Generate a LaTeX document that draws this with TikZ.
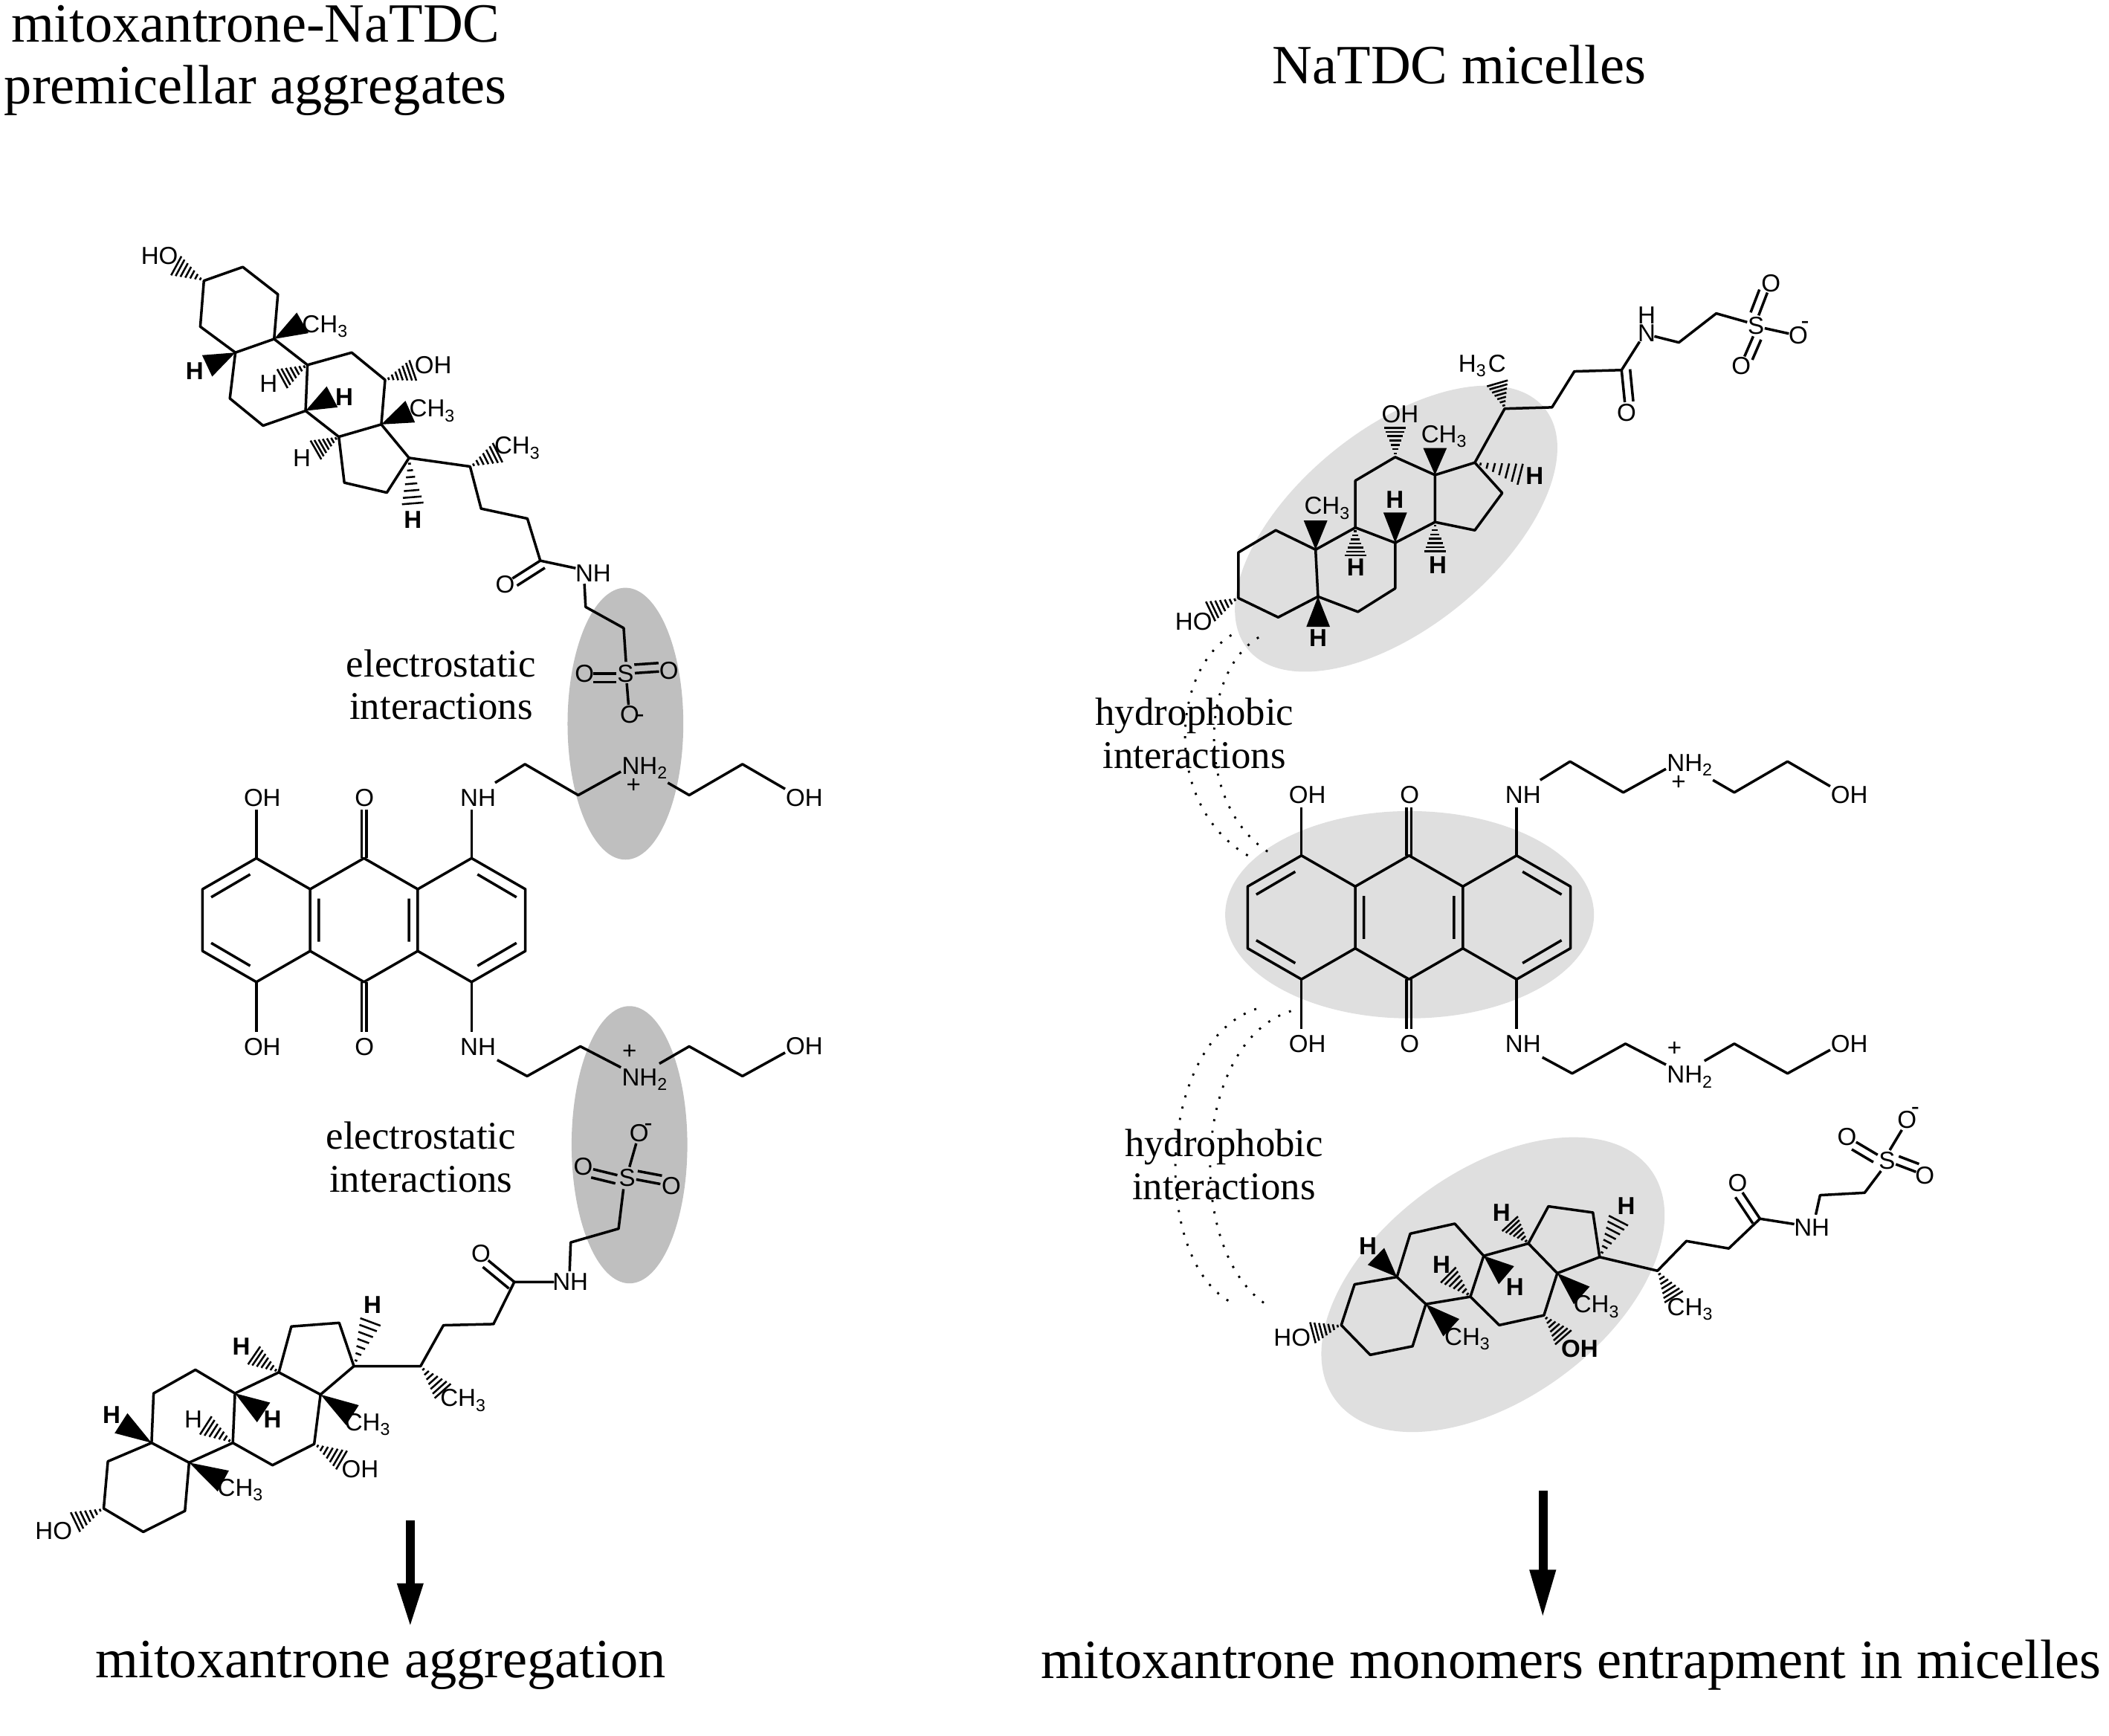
\documentclass[tikz,border=0pt]{standalone}
\usepackage{fontspec}
\setmainfont{Liberation Serif}
\setsansfont{Liberation Sans}
\usetikzlibrary{calc}
\newcommand\labf{\fontsize{5.2}{5.2}\selectfont\sffamily}
\newcommand\hsh[2]{\foreach \t in {0.12,0.26,0.40,0.54,0.68,0.82,0.95}{\pgfmathsetlengthmacro\hw{\t*2.4pt}\draw[line width=0.4pt] ($(#1)!\t!(#2)!\hw!90:(#2)$) -- ($(#1)!\t!(#2)!\hw!-90:(#2)$);}}
\newcommand\wdg[2]{\fill ($(#2)!2.5pt!90:(#1)$) -- (#1) -- ($(#2)!2.5pt!-90:(#1)$) -- cycle;}
\newcommand\dbl[2]{\draw (#1)--(#2); \draw ($(#1)!1.8pt!90:(#2)$)--($(#2)!1.8pt!-90:(#1)$);}
\newcommand\MitoxDraw{%
 \draw (190.6,638)--(230.6,661)--(230.6,707)--(190.6,730)--(150.6,707)--(150.6,661)--cycle;
 \draw (230.6,661)--(270.6,638)--(310.6,661)--(310.6,707)--(270.6,730)--(230.6,707);
 \draw (310.6,661)--(350.6,638)--(390.6,661)--(390.6,707)--(350.6,730)--(310.6,707);
 \draw (157,667)--(186,650) (157,701)--(186,718) (237,668)--(237,700) (304,668)--(304,700)
       (355,650)--(384,667) (355,718)--(384,701);
 \draw (190.6,638)--(190.6,602) (190.6,730)--(190.6,767);
 \draw (268.8,638)--(268.8,602) (272.4,638)--(272.4,602) (268.8,730)--(268.8,767) (272.4,730)--(272.4,767);
 \draw (350.6,638)--(350.6,602) (350.6,730)--(350.6,767);
 \node[lab] at (195,593) {OH}; \node[lab] at (271,593) {O}; \node[lab] at (355.4,593) {NH};
 \node[lab] at (195,778) {OH}; \node[lab] at (271,778) {O}; \node[lab] at (355.4,778) {NH};
 \draw (368.1,581.9)--(390.3,568.1)--(429.9,591.1)--(461.6,573.6);
 \draw (496.5,581.9)--(512.4,591.1)--(552,568.1)--(583.7,586.5);
 \node[lab] at (480,570.9) {NH\textsubscript{2}}; \node[lab] at (471,584) {+};
 \node[lab] at (598,593) {OH};
 \draw (369.7,788)--(391.9,800)--(431.5,777.9)--(461.6,793.5);
 \draw (490.2,790.7)--(512.4,777.9)--(552,800)--(583.7,782.5);
 \node[lab] at (480,802.7) {NH\textsubscript{2}}; \node[lab] at (468,782) {+};
 \node[lab] at (598,777.9) {OH};
}
\begin{document}
\begin{tikzpicture}[x=0.01cm,y=-0.01cm,line width=0.55pt,line join=round,
  lab/.style={font=\labf,inner sep=0pt},
  blab/.style={font=\labf\bfseries,inner sep=0pt},
  big/.style={font=\fontsize{11.7}{13.1}\selectfont,align=center,inner sep=0pt},
  mid/.style={font=\fontsize{8.3}{9.1}\selectfont,align=center,inner sep=0pt},
  dots/.style={dotted,line width=0.45pt}]
\useasboundingbox (0,0) rectangle (1568,1290);
% ellipses
\fill[gray!50] (465,538) ellipse[x radius=0.43cm,y radius=1.01cm];
\fill[gray!50] (468,851) ellipse[x radius=0.43cm,y radius=1.03cm];
\fill[gray!25] (1038,393) ellipse[x radius=1.42cm,y radius=0.74cm,rotate=39];
\fill[gray!25] (1048,680) ellipse[x radius=1.37cm,y radius=0.77cm];
\fill[gray!25] (1110,955) ellipse[x radius=1.45cm,y radius=0.85cm,rotate=36];
% titles
\node[big] (t1) at (190,45) {mitoxantrone-NaTDC\\premicellar aggregates};
\node[big] (t2) at (1085,48) {NaTDC micelles};
\node[big] (b1) at (283,1238) {mitoxantrone aggregation};
\node[big] (b2) at (1168,1238) {mitoxantrone monomers entrapment in micelles};
\node[mid] (e1) at (328,509) {electrostatic\\interactions};
\node[mid] (e2) at (313,860) {electrostatic\\interactions};
% dotted arcs
\draw[dots] (915.5,472.1) .. controls (870,500) and (865,600) .. (928.4,636.4);
\draw[dots] (935.8,473.8) .. controls (892,500) and (888,600) .. (945,634.7);
\draw[dots] (934,750) .. controls (860,775) and (855,935) .. (915,968);
\draw[dots] (959.8,751.6) .. controls (885,775) and (880,935) .. (945,972);
\node[mid] (h1) at (888,545) {hydrophobic\\interactions};
\node[mid] (h2) at (910,866) {hydrophobic\\interactions};
% arrows
\fill (302,1130) rectangle (308.5,1180);
\fill (295,1177) -- (315,1177) -- (305,1208) -- cycle;
\fill (1144,1108) rectangle (1150.5,1170);
\fill (1137,1167) -- (1157,1167) -- (1147,1201) -- cycle;
% mitoxantrone
\MitoxDraw
\begin{scope}[shift={(777,-2)}]\MitoxDraw\end{scope}
% ===== left top steroid
\draw (151.6,208.7)--(180.5,198.5)--(206.6,218.8)--(203.8,252)--(175,262.1)--(148.9,242.8)--cycle;
\draw (203.8,252)--(228.6,271.3)--(227.2,305.4)--(195.6,316.4)--(170.9,296.2)--(175,262.1);
\draw (228.6,271.3)--(261.5,262.1)--(286.3,282.4)--(283.5,315.5)--(251.9,324.7)--(227.2,305.4);
\draw (283.5,315.5)--(304.1,340.4)--(287.6,366.2)--(256,358.8)--(251.9,324.7);
\draw (304.1,340.4)--(349.5,346.8)--(357.7,378.1)--(392.1,385.5)--(401.7,416.8)--(428,422.4);
\dbl{401.7,416.8}{381,430}
\node[lab] at (375.6,434.3) {O}; \node[lab] at (441,426.2) {NH};
\hsh{151.6,208.7}{130,197} \node[lab] at (118.6,190.3) {HO};
\wdg{203.8,252}{225,240} \node[lab] at (242.3,242.8) {CH\textsubscript{3}};
\wdg{175,262.1}{154,272} \node[blab] at (144.7,275.9) {H};
\hsh{228.6,271.3}{209,282} \node[lab] at (199.7,285.1) {H};
\wdg{227.2,305.4}{247,295} \node[blab] at (256,295.3) {H};
\hsh{286.3,282.4}{308,275} \node[lab] at (322,271.3) {OH};
\wdg{283.5,315.5}{305,306} \node[lab] at (322,305.4) {CH\textsubscript{3}};
\hsh{251.9,324.7}{234,335} \node[lab] at (224.4,340.4) {H};
\hsh{304.1,340.4}{307,376} \node[blab] at (306.9,386.4) {H};
\hsh{349.5,346.8}{371,336} \node[lab] at (385.2,333) {CH\textsubscript{3}};
\draw (434.5,434)--(435.4,451.2)--(463.7,466.9)--(465.4,492);
\node[lab] at (465.1,500.7) {S};
\dbl{458,500.7}{441,500.7} \node[lab] at (434.5,500.7) {O};
\dbl{472,500.4}{490,499.2} \node[lab] at (497.3,498.8) {O};
\draw (466,508)--(467.3,524); \node[lab] at (468.1,531) {O}; \node[lab] at (476,534) {-};
% ===== left bottom steroid
\draw (80.2,1086.4)--(77.1,1121.4)--(106.5,1138.8)--(137.5,1123.2)--(140.6,1087.3)--(112.7,1072.6)--cycle;
\draw (112.7,1072.6)--(114.2,1035.8)--(145.3,1018.3)--(174.7,1035.8)--(173.1,1072.6)--(140.6,1087.3);
\draw (174.7,1035.8)--(207.3,1020.2)--(238.3,1036.7)--(233.6,1073.5)--(202.6,1089.2)--(173.1,1072.6);
\draw (207.3,1020.2)--(216.6,986.1)--(252.2,983.4)--(263.1,1015.6)--(238.3,1036.7);
\draw (263.1,1015.6)--(312.7,1015.6)--(329.7,985.2)--(366.9,984.3)--(382.4,953)--(412,953);
\dbl{382.4,953}{363,937}
\node[lab] at (357.6,931.8) {O}; \node[lab] at (424,953) {NH};
\draw (423.5,945)--(424.3,923.6)--(459.9,913.4)--(463.5,884);
\wdg{112.7,1072.6}{90,1058} \node[blab] at (83,1052) {H};
\hsh{173.1,1072.6}{152,1059} \node[lab] at (143.7,1055) {H};
\wdg{174.7,1035.8}{196,1050} \node[blab] at (202.6,1055) {H};
\hsh{207.3,1020.2}{188,1007} \node[blab] at (179.4,1001) {H};
\wdg{238.3,1036.7}{262,1052} \node[lab] at (274,1059) {CH\textsubscript{3}};
\hsh{233.6,1073.5}{255,1086} \node[lab] at (267.7,1092) {OH};
\wdg{140.6,1087.3}{166,1101} \node[lab] at (179.4,1107.6) {CH\textsubscript{3}};
\hsh{77.1,1121.4}{55,1132} \node[lab] at (39.9,1138) {HO};
\hsh{263.1,1015.6}{276,981} \node[blab] at (277,970) {H};
\hsh{312.7,1015.6}{330,1035} \node[lab] at (345,1041) {CH\textsubscript{3}};
\node[lab] at (466.3,875.3) {S};
\draw (468,867.5)--(473,850); \node[lab] at (475.2,842.5) {O}; \node[lab] at (482,838) {-};
\dbl{459,873.6}{441,869.2} \node[lab] at (433.6,867.5) {O};
\dbl{473,876.8}{491,880.2} \node[lab] at (499.1,881.6) {O};
% ===== right top steroid
\draw (920.7,410.7)--(920.7,444.6)--(950.3,458.9)--(979.9,443.5)--(978.1,408.6)--(948.5,394.2)--cycle;
\draw (978.1,408.6)--(1007.7,392.2)--(1037.3,403.5)--(1037.3,437.4)--(1009.6,454.8)--(979.9,443.5);
\draw (1007.7,392.2)--(1007.7,357.3)--(1037.3,339.8)--(1066.9,353.1)--(1066.9,388.1)--(1037.3,403.5);
\draw (1066.9,353.1)--(1096.5,343.9)--(1116.9,366.5)--(1096.5,394.2)--(1066.9,388.1);
\draw (1096.5,343.9)--(1118.7,303.8)--(1153.9,302.8)--(1170.5,276.1)--(1205.6,275.1)--(1219,254);
\dbl{1205.6,275.1}{1208,299}
\node[lab] at (1209.3,307) {O};
\node[lab] at (1224.2,247.4) {N}; \node[lab] at (1224.2,234.5) {H};
\draw (1230,250)--(1248.2,254.6)--(1276,233)--(1299,239.5);
\node[lab] at (1305.6,242.2) {S};
\dbl{1307.5,234.5}{1314,217.5} \node[lab] at (1316.7,210.4) {O};
\dbl{1303.5,250}{1297,265} \node[lab] at (1294.5,272) {O};
\draw (1312,244)--(1330,248); \node[lab] at (1337,249.4) {O}; \node[lab] at (1342,241.5) {-};
\hsh{1118.7,303.8}{1113,284} \node[lab] at (1102,272) {H\textsubscript{3}C};
\hsh{1037.3,339.8}{1037.3,317} \node[lab] at (1041,308) {OH};
\wdg{1066.9,353.1}{1066.9,333} \node[lab] at (1074.3,324.4) {CH\textsubscript{3}};
\hsh{1096.5,343.9}{1132,353} \node[blab] at (1141,354) {H};
\wdg{978.1,408.6}{978.1,387} \node[lab] at (987.4,377.8) {CH\textsubscript{3}};
\wdg{1037.3,403.5}{1037.3,381} \node[blab] at (1037,371.6) {H};
\hsh{1007.7,392.2}{1007.7,414} \node[blab] at (1008,422) {H};
\hsh{1066.9,388.1}{1066.9,411} \node[blab] at (1069,420) {H};
\wdg{979.9,443.5}{980,466} \node[blab] at (980,474.4) {H};
\hsh{920.7,444.6}{899,455} \node[lab] at (887.5,462) {HO};
% ===== right bottom steroid
\draw (997.2,985.1)--(1007.1,954.8)--(1038.6,949.3)--(1060.1,969.5)--(1050.2,1000.8)--(1018.7,1007.2)--cycle;
\draw (1038.6,949.3)--(1048.5,917.1)--(1081.6,909.7)--(1103.1,933.6)--(1093.2,964)--(1060.1,969.5);
\draw (1103.1,933.6)--(1136.3,924.4)--(1157.8,946.5)--(1147.9,977.8)--(1114.7,985.1)--(1093.2,964);
\draw (1136.3,924.4)--(1151.2,896.8)--(1184.3,901.4)--(1189.3,934.5)--(1157.8,946.5);
\draw (1189.3,934.5)--(1232.3,944.7)--(1253.8,922.6)--(1285.3,928.1)--(1308.5,906)--(1334,910);
\dbl{1308.5,906}{1295.5,886.5}
\node[lab] at (1291.9,879.3) {O}; \node[lab] at (1347,912.5) {NH};
\draw (1350,903)--(1353.2,888.5)--(1386.3,886.7)--(1398.5,870.5);
\node[lab] at (1402.9,862.8) {S};
\dbl{1396,858.5}{1380,849} \node[lab] at (1373.1,845.3) {O};
\dbl{1409.5,865.5}{1424.5,871.2} \node[lab] at (1431,873.8) {O};
\draw (1405,855)--(1414,840); \node[lab] at (1417.8,832.4) {O}; \node[lab] at (1424,826) {-};
\hsh{997.2,985.1}{975,991} \node[lab] at (960.7,994.3) {HO};
\wdg{1060.1,969.5}{1079,987} \node[lab] at (1091.6,995.3) {CH\textsubscript{3}};
\wdg{1038.6,949.3}{1023,934} \node[blab] at (1017,926.3) {H};
\hsh{1093.2,964}{1076,947} \node[blab] at (1071.7,940.1) {H};
\wdg{1103.1,933.6}{1120,948} \node[blab] at (1126.3,956.6) {H};
\hsh{1136.3,924.4}{1122,909} \node[blab] at (1116.4,901.4) {H};
\wdg{1157.8,946.5}{1176,963} \node[lab] at (1187.6,971.3) {CH\textsubscript{3}};
\hsh{1147.9,977.8}{1163,995} \node[blab] at (1174.4,1002.6) {OH};
\hsh{1189.3,934.5}{1204,906} \node[blab] at (1209.1,896.8) {H};
\hsh{1232.3,944.7}{1245,965} \node[lab] at (1257.2,973.2) {CH\textsubscript{3}};
\end{tikzpicture}
\end{document}
